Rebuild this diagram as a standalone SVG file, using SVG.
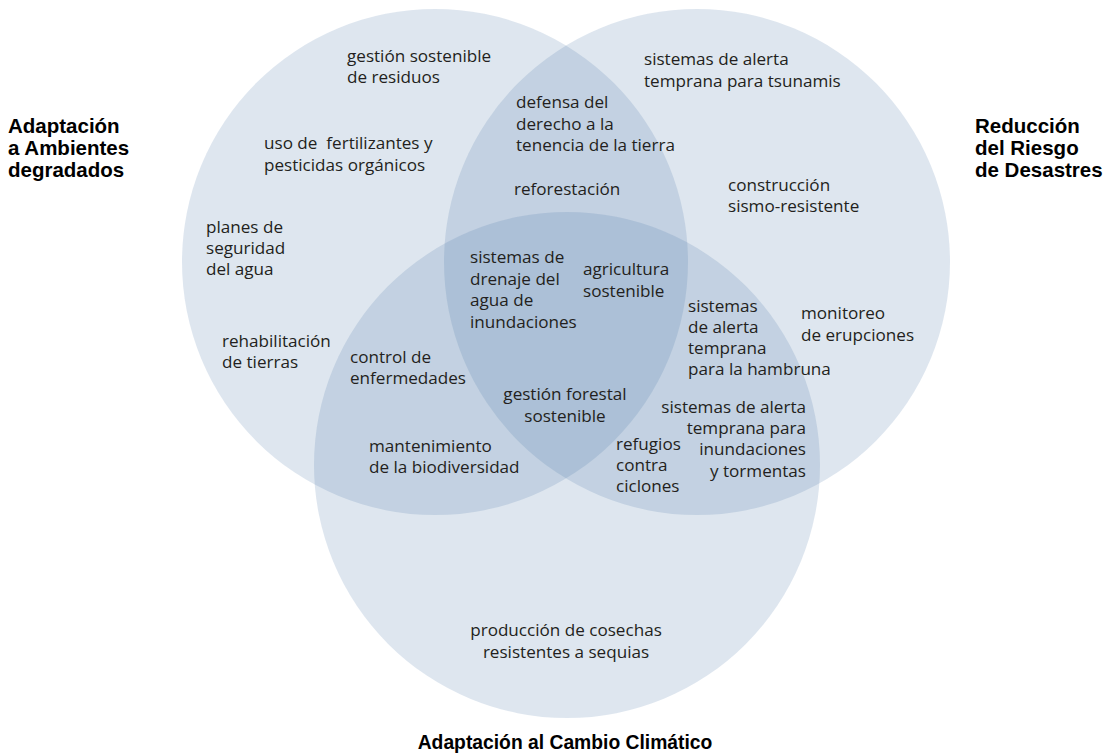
<svg xmlns="http://www.w3.org/2000/svg" width="1107" height="755" viewBox="0 0 1107 755">
<style>
.set{fill:#4874a6;fill-opacity:0.18;stroke:none}
.t{font-family:"Open Sans","Noto Sans","Liberation Sans",sans-serif;font-size:17.1px;fill:#231f20}
.lbl{font-family:"Liberation Sans","Open Sans",sans-serif;font-size:20.5px;font-weight:bold;fill:#000}
.c{text-anchor:middle}
.r{text-anchor:end}
</style>
<rect width="1107" height="755" fill="#fff"/>
<g id="set-ambientes">
<circle class="set" cx="435" cy="262" r="253"/>
<text class="lbl" x="8" y="133">Adaptación<tspan x="8" dy="22">a Ambientes</tspan><tspan x="8" dy="22">degradados</tspan></text>
</g>
<g id="set-desastres">
<circle class="set" cx="697" cy="262" r="253"/>
<text class="lbl" x="975" y="133">Reducción<tspan x="975" dy="22">del Riesgo</tspan><tspan x="975" dy="22">de Desastres</tspan></text>
</g>
<g id="set-clima">
<circle class="set" cx="567" cy="465" r="253"/>
<text class="lbl c" x="565" y="749" style="font-size:19.3px">Adaptación al Cambio Climático</text>
</g>
<g id="connectors"></g>
<g id="item-residuos"><text class="t" x="347" y="62">gestión sostenible<tspan x="347" dy="21">de residuos</tspan></text></g>
<g id="item-fertilizantes"><text class="t" x="264" y="149" xml:space="preserve">uso de  fertilizantes y<tspan x="264" dy="22">pesticidas orgánicos</tspan></text></g>
<g id="item-agua"><text class="t" x="206" y="233">planes de<tspan x="206" dy="21">seguridad</tspan><tspan x="206" dy="21">del agua</tspan></text></g>
<g id="item-tierras"><text class="t" x="222" y="347">rehabilitación<tspan x="222" dy="21">de tierras</tspan></text></g>
<g id="item-enfermedades"><text class="t" x="350" y="363">control de<tspan x="350" dy="21">enfermedades</tspan></text></g>
<g id="item-biodiversidad"><text class="t" x="369" y="452">mantenimiento<tspan x="369" dy="21">de la biodiversidad</tspan></text></g>
<g id="item-tenencia"><text class="t" x="516" y="108">defensa del<tspan x="516" dy="22">derecho a la</tspan><tspan x="516" dy="21">tenencia de la tierra</tspan></text></g>
<g id="item-reforestacion"><text class="t" x="514" y="195">reforestación</text></g>
<g id="item-drenaje"><text class="t" x="470" y="263">sistemas de<tspan x="470" dy="22">drenaje del</tspan><tspan x="470" dy="21">agua de</tspan><tspan x="470" dy="22">inundaciones</tspan></text></g>
<g id="item-agricultura"><text class="t" x="583" y="275">agricultura<tspan x="583" dy="22">sostenible</tspan></text></g>
<g id="item-forestal"><text class="t c" x="565" y="400">gestión forestal<tspan x="565" dy="22">sostenible</tspan></text></g>
<g id="item-tsunamis"><text class="t" x="644" y="65">sistemas de alerta<tspan x="644" dy="22">temprana para tsunamis</tspan></text></g>
<g id="item-construccion"><text class="t" x="728" y="191">construcción<tspan x="728" dy="21">sismo-resistente</tspan></text></g>
<g id="item-hambruna"><text class="t" x="688" y="312">sistemas<tspan x="688" dy="21">de alerta</tspan><tspan x="688" dy="21">temprana</tspan><tspan x="688" dy="21">para la hambruna</tspan></text></g>
<g id="item-erupciones"><text class="t" x="801" y="319">monitoreo<tspan x="801" dy="22">de erupciones</tspan></text></g>
<g id="item-inundaciones"><text class="t r" x="806" y="413">sistemas de alerta<tspan x="806" dy="21">temprana para</tspan><tspan x="806" dy="21">inundaciones</tspan><tspan x="806" dy="22">y tormentas</tspan></text></g>
<g id="item-refugios"><text class="t" x="616" y="450">refugios<tspan x="616" dy="21">contra</tspan><tspan x="616" dy="21">ciclones</tspan></text></g>
<g id="item-cosechas"><text class="t c" x="566" y="636">producción de cosechas<tspan x="566" dy="22">resistentes a sequias</tspan></text></g>
</svg>
